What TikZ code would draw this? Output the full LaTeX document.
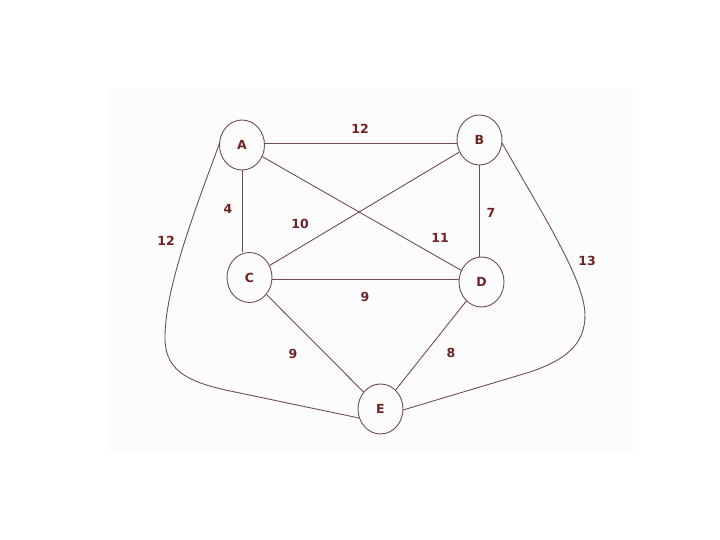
\documentclass[tikz,border=0pt]{standalone}
\usepackage{fontspec}
\setmainfont{DejaVu Sans}
\usetikzlibrary{shapes.geometric}
\definecolor{edgecol}{RGB}{112,78,80}
\definecolor{textcol}{RGB}{110,36,38}
\definecolor{paper}{RGB}{253,252,252}
\begin{document}
\begin{tikzpicture}[x=1pt,y=-1pt,
  vertex/.style={draw=edgecol,line width=0.9pt,ellipse,minimum width=45pt,minimum height=50pt,inner sep=0pt,
    font=\fontsize{12.5}{14}\selectfont\bfseries,text=textcol},
  edge/.style={draw=edgecol,line width=0.9pt},
  wlabel/.style={font=\fontsize{12.5}{14}\selectfont\bfseries,text=textcol,inner sep=0pt}]
\useasboundingbox (0,0) rectangle (720,540);
\fill[paper] (110,88) rectangle (633,452);
\node[vertex] (A) at (242,145) {A};
\node[vertex] (B) at (479.5,140) {B};
\node[vertex] (C) at (249.5,277.5) {C};
\node[vertex] (D) at (481.5,282) {D};
\node[vertex] (E) at (380.5,409) {E};
\coordinate (Aw) at (220,142);
\coordinate (Ew) at (359,418);
\coordinate (Be) at (502,143);
\coordinate (Ee) at (403,410);
\draw[edge] (A.east |- 0,143) -- (B.west |- 0,143);
\draw[edge] (A.south) -- (A.south |- C.north);
\draw[edge] (B.south) -- (B.south |- D.north);
\draw[edge] (A) -- (D);
\draw[edge] (B) -- (C);
\draw[edge] (C.east |- 0,279) -- (D.west |- 0,279);
\draw[edge] (C) -- (E);
\draw[edge] (D) -- (E);
\draw[edge] (Aw) .. controls (195,210) and (164,290) .. (165,340) .. controls (166,372) and (190,383) .. (235,392) -- (Ew);
\draw[edge] (Be) .. controls (540,210) and (585,280) .. (585,315) .. controls (585,345) and (565,360) .. (530,372) -- (Ee);
\node[wlabel] (l1) at (360,129) {12};
\node[wlabel] (l2) at (228,209) {4};
\node[wlabel] (l3) at (300,224) {10};
\node[wlabel] (l4) at (440,238) {11};
\node[wlabel] (l5) at (491,213) {7};
\node[wlabel] (l6) at (166,241) {12};
\node[wlabel] (l7) at (587,261) {13};
\node[wlabel] (l8) at (365,297) {9};
\node[wlabel] (l9) at (293,354) {9};
\node[wlabel] (l10) at (451,353) {8};
\end{tikzpicture}
\end{document}
